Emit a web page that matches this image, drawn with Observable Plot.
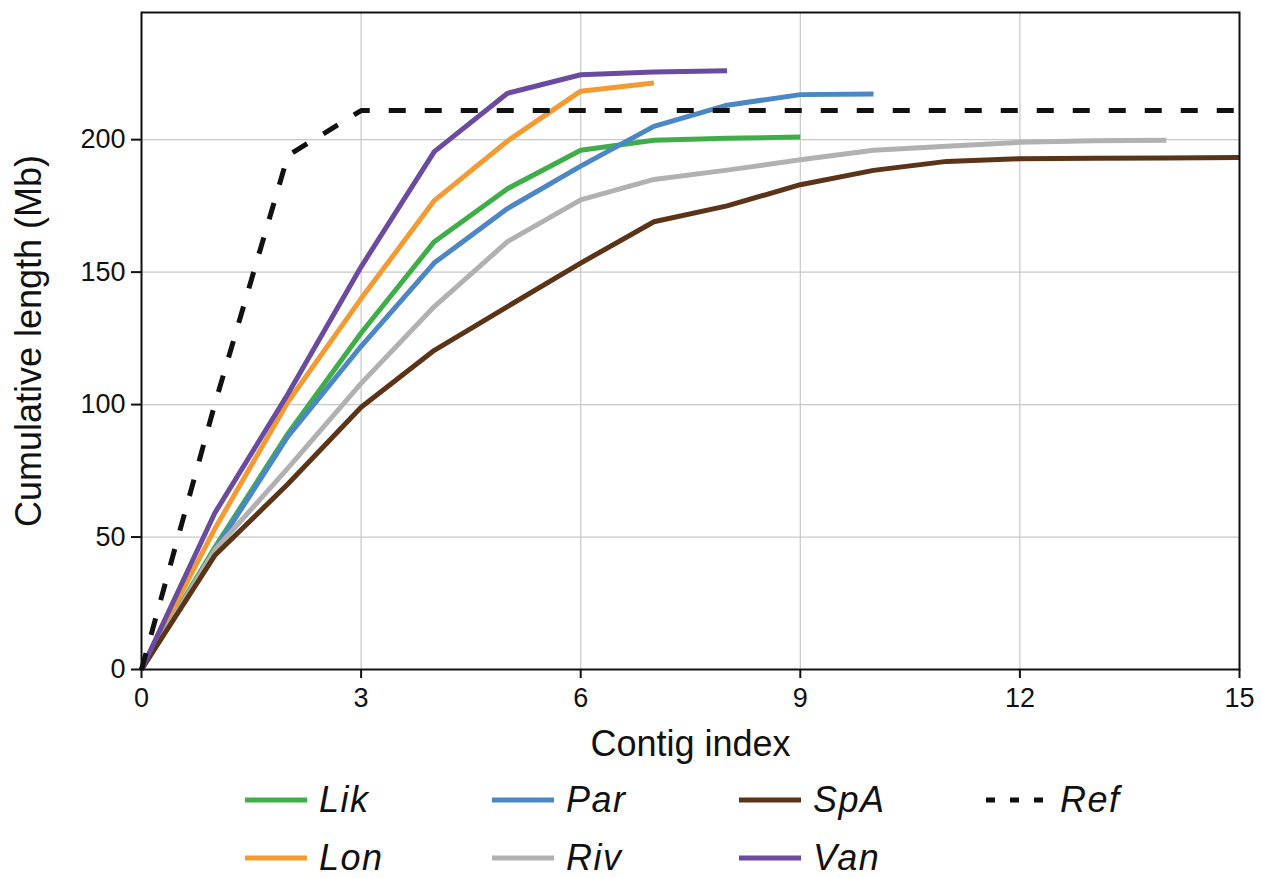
<!DOCTYPE html>
<html>
<head>
<meta charset="utf-8">
<script src="https://cdn.jsdelivr.net/npm/d3@7"></script>
<script src="https://cdn.jsdelivr.net/npm/@observablehq/plot@0.6"></script>
<style>
  html, body { margin: 0; padding: 0; background: #fff; }
  body { width: 1262px; height: 878px; position: relative; font-family: "Liberation Sans", Arial, sans-serif; }
  #legend { position: absolute; left: 245px; top: 771px; width: 1000px; }
  .row { display: flex; height: 58px; align-items: center; }
  .item { width: 247px; display: flex; align-items: center; }
  .item svg { margin-right: 12px; }
  .item span { font-style: italic; font-size: 36px; color: #111; letter-spacing: 1.5px; }
</style>
</head>
<body>
<div id="chart"></div>
<div id="legend"></div>
<script>
// Series names and colours
const seriesNames = ["Lik", "Lon", "Par", "Riv", "SpA", "Van", "Ref"];
const seriesColors = ["#3fae49", "#f39a32", "#4a87c4", "#b1b1b1", "#5b3418", "#6a4b9f", "#111111"];

// Cumulative length (Mb) at contig index 0,1,2,...
const lik = [0, 46, 89, 127, 161.5, 181.5, 196, 199.8, 200.5, 201];
const lon = [0, 53, 101, 140, 177, 199.5, 218.3, 221.4];
const par = [0, 45, 88, 122, 153.5, 174, 190, 205, 213, 217, 217.2];
const riv = [0, 45, 76, 108, 137, 161.5, 177.3, 185, 188.5, 192.4, 196, 197.5, 199, 199.6, 199.8];
const spa = [0, 43, 70, 99, 120.5, 137, 153.4, 169, 175, 183, 188.4, 191.8, 192.8, 193, 193.1, 193.3];
const van = [0, 59, 104, 152, 195.5, 217.5, 224.5, 225.5, 226];
const ref = [0, 100, 194, 211, 211, 211, 211, 211, 211, 211, 211, 211, 211, 211, 211, 211];

// Axis ticks
const xTicks = [0, 3, 6, 9, 12, 15];
const yTicks = [0, 50, 100, 150, 200];

const seriesValues = [lik, lon, par, riv, spa, van, ref];
const rows = [];
seriesNames.forEach((name, i) => {
  seriesValues[i].forEach((v, j) => rows.push({series: name, index: j, length: v}));
});
const solid = rows.filter(d => d.series !== "Ref");
const dashed = rows.filter(d => d.series === "Ref");

const chart = Plot.plot({
  width: 1262,
  height: 770,
  marginLeft: 141,
  marginRight: 23,
  marginTop: 12,
  marginBottom: 101,
  style: {fontFamily: "'Liberation Sans', Arial, sans-serif", color: "#111", background: "#fff"},
  x: {domain: [0, 15]},
  y: {domain: [0, 248]},
  color: {domain: seriesNames, range: seriesColors},
  marks: [
    Plot.gridX(xTicks, {stroke: "#c8c8c8", strokeOpacity: 1, strokeWidth: 1.2}),
    Plot.gridY(yTicks, {stroke: "#c8c8c8", strokeOpacity: 1, strokeWidth: 1.2}),
    Plot.line(solid, {x: "index", y: "length", z: "series", stroke: "series", strokeWidth: 5, strokeLinejoin: "round", strokeLinecap: "butt"}),
    Plot.line(dashed, {x: "index", y: "length", stroke: "series", strokeWidth: 5, strokeDasharray: "17,19", strokeLinecap: "butt"}),
    Plot.frame({stroke: "#111", strokeWidth: 2}),
    Plot.axisX(xTicks, {tickSize: 9, tickPadding: 9, fontSize: 27, stroke: "#111", strokeWidth: 2,
      label: "Contig index", labelAnchor: "center", labelArrow: "none", labelOffset: 86}),
    Plot.axisY(yTicks, {tickSize: 10, tickPadding: 6, fontSize: 27, stroke: "#111", strokeWidth: 2,
      label: "Cumulative length (Mb)", labelAnchor: "center", labelArrow: "none", labelOffset: 126})
  ]
});
chart.querySelectorAll("g[aria-label='x-axis tick label'], g[aria-label='y-axis tick label']").forEach(g => {
  g.setAttribute("font-size", "27");
  g.querySelectorAll("text").forEach(t => t.setAttribute("font-size", "27"));
});
chart.querySelectorAll("g[aria-label='x-axis label'] text, g[aria-label='y-axis label'] text").forEach(t => t.setAttribute("font-size", "36"));
document.getElementById("chart").appendChild(chart);

// Legend
const legendOrder = [["Lik", "Par", "SpA", "Ref"], ["Lon", "Riv", "Van"]];
const legend = document.getElementById("legend");
legendOrder.forEach(r => {
  const row = document.createElement("div");
  row.className = "row";
  r.forEach(name => {
    const i = seriesNames.indexOf(name);
    const item = document.createElement("div");
    item.className = "item";
    const dash = name === "Ref" ? ' stroke-dasharray="9,15" stroke-dashoffset="0"' : "";
    item.innerHTML = `<svg width="62" height="12"><line x1="0" y1="6" x2="62" y2="6" stroke="${seriesColors[i]}" stroke-width="5"${dash}/></svg><span>${name}</span>`;
    row.appendChild(item);
  });
  legend.appendChild(row);
});
</script>
</body>
</html>
